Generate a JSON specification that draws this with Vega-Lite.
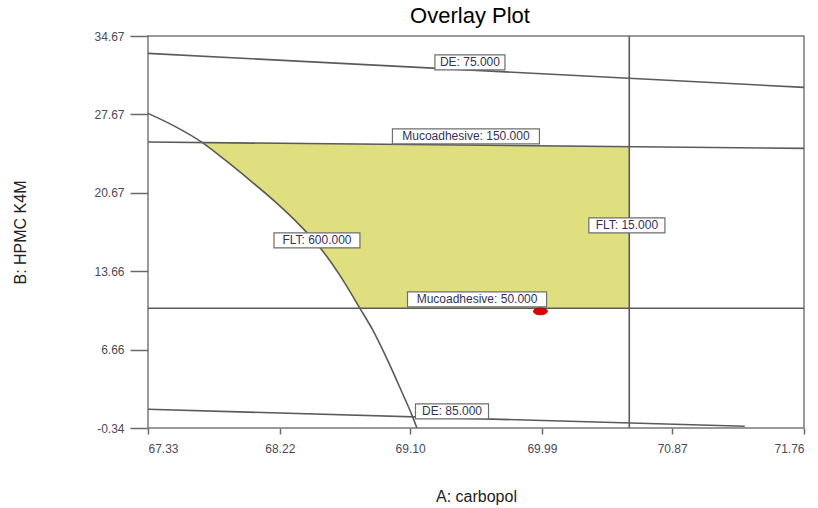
{
  "$schema": "https://vega.github.io/schema/vega-lite/v6.json",
  "width": 656,
  "height": 392,
  "autosize": "none",
  "padding": {"left": 148, "top": 36, "right": 14, "bottom": 80},
  "background": "white",
  "config": {
    "view": {"stroke": "#7a7a7a", "strokeWidth": 1.5},
    "font": "Liberation Sans"
  },
  "title": {
    "text": "Overlay Plot",
    "fontSize": 22,
    "font": "Liberation Sans",
    "fontWeight": "normal",
    "color": "#000000",
    "offset": 2,
    "dx": -6
  },
  "datasets": {
    "fillCurve": [
      {"x": 67.695, "y": 25.17, "y2": 25.17},
      {"x": 67.85, "y": 23.6, "y2": 25.14},
      {"x": 68.019, "y": 21.78, "y2": 25.11},
      {"x": 68.19, "y": 19.85, "y2": 25.09},
      {"x": 68.356, "y": 17.76, "y2": 25.07},
      {"x": 68.491, "y": 15.79, "y2": 25.05},
      {"x": 68.626, "y": 13.29, "y2": 25.03},
      {"x": 68.761, "y": 10.35, "y2": 25.02}
    ],
    "fillRect": [
      {"x": 68.761, "y": 10.35, "y2": 25.02},
      {"x": 70.58, "y": 10.35, "y2": 24.78}
    ],
    "lines": [
      {"series": "DE 75", "i": 0, "x": 67.33, "y": 33.12},
      {"series": "DE 75", "i": 1, "x": 71.76, "y": 30.08},
      {"series": "Muco 150", "i": 0, "x": 67.33, "y": 25.2},
      {"series": "Muco 150", "i": 1, "x": 71.76, "y": 24.63},
      {"series": "Muco 50", "i": 0, "x": 67.33, "y": 10.35},
      {"series": "Muco 50", "i": 1, "x": 71.76, "y": 10.35},
      {"series": "FLT 15", "i": 0, "x": 70.58, "y": 34.67},
      {"series": "FLT 15", "i": 1, "x": 70.58, "y": -0.34},
      {"series": "DE 85", "i": 0, "x": 67.33, "y": 1.33},
      {"series": "DE 85", "i": 1, "x": 71.36, "y": -0.19}
    ],
    "curve": [
      {"x": 67.33, "y": 27.76},
      {"x": 67.512, "y": 26.6},
      {"x": 67.695, "y": 25.17},
      {"x": 67.85, "y": 23.6},
      {"x": 68.019, "y": 21.78},
      {"x": 68.19, "y": 19.85},
      {"x": 68.356, "y": 17.76},
      {"x": 68.491, "y": 15.79},
      {"x": 68.626, "y": 13.29},
      {"x": 68.761, "y": 10.35},
      {"x": 68.849, "y": 8.38},
      {"x": 68.964, "y": 5.26},
      {"x": 69.045, "y": 2.85},
      {"x": 69.113, "y": 0.79},
      {"x": 69.146, "y": -0.34}
    ],
    "point": [
      {"x": 69.98, "y": 10.08}
    ],
    "labels": [
      {"label": "DE: 75.000", "x": 69.504, "y": 32.31},
      {"label": "Mucoadhesive: 150.000", "x": 69.477, "y": 25.71},
      {"label": "FLT: 600.000", "x": 68.471, "y": 16.42},
      {"label": "FLT: 15.000", "x": 70.564, "y": 17.76},
      {"label": "Mucoadhesive: 50.000", "x": 69.552, "y": 11.15},
      {"label": "DE: 85.000", "x": 69.383, "y": 1.15}
    ]
  },
  "encoding": {
    "x": {
      "field": "x",
      "type": "quantitative",
      "scale": {"domain": [67.33, 71.76], "nice": false, "zero": false},
      "axis": {
        "title": "A: carbopol",
        "values": [67.33, 68.22, 69.1, 69.99, 70.87, 71.76],
        "format": ".2f",
        "grid": false,
        "domain": false,
        "tickSize": 6,
        "tickWidth": 1.5,
        "tickColor": "#6a6a6a",
        "labelPadding": 9,
        "labelFontSize": 12,
        "labelColor": "#4a4a5a",
        "labelFont": "Liberation Sans",
        "titleFont": "Liberation Sans",
        "titleFontSize": 16,
        "titleFontWeight": "normal",
        "titleColor": "#222222",
        "titleY": 60
      }
    },
    "y": {
      "field": "y",
      "type": "quantitative",
      "scale": {"domain": [-0.34, 34.67], "nice": false, "zero": false},
      "axis": {
        "title": "B: HPMC K4M",
        "values": [-0.34, 6.66, 13.66, 20.67, 27.67, 34.67],
        "labelExpr": "replace(format(datum.value, '.2f'), '\u2212', '-')",
        "grid": false,
        "domain": false,
        "tickSize": 18,
        "tickWidth": 1.5,
        "tickColor": "#6a6a6a",
        "labelPadding": 6,
        "labelFontSize": 12,
        "labelColor": "#4a4a5a",
        "labelFont": "Liberation Sans",
        "titleFont": "Liberation Sans",
        "titleFontSize": 16,
        "titleFontWeight": "normal",
        "titleColor": "#222222",
        "titleX": -120,
        "titleY": 196
      }
    }
  },
  "layer": [
    {
      "data": {"name": "fillCurve"},
      "mark": {"type": "area", "color": "#dfdf7f", "stroke": "#dfdf7f", "strokeWidth": 1, "opacity": 1, "interpolate": "monotone"},
      "encoding": {
        "y2": {"field": "y2"}
      }
    },
    {
      "data": {"name": "fillRect"},
      "mark": {"type": "area", "color": "#dfdf7f", "stroke": "#dfdf7f", "strokeWidth": 1, "opacity": 1},
      "encoding": {
        "y2": {"field": "y2"}
      }
    },
    {
      "data": {"name": "lines"},
      "mark": {"type": "line", "color": "#5a5a5a", "strokeWidth": 1.6},
      "encoding": {
        "detail": {"field": "series", "type": "nominal"},
        "order": {"field": "i", "type": "quantitative"}
      }
    },
    {
      "data": {"name": "curve"},
      "mark": {"type": "line", "color": "#5a5a5a", "strokeWidth": 1.6, "interpolate": "monotone"},
      "encoding": {}
    },
    {
      "data": {"name": "point"},
      "mark": {
        "type": "point",
        "filled": true,
        "color": "#e00000",
        "stroke": "#a00000",
        "strokeWidth": 0.8,
        "opacity": 1,
        "size": 196,
        "shape": "M-1,0C-1,-0.28,-0.55,-0.5,0,-0.5C0.55,-0.5,1,-0.28,1,0C1,0.28,0.55,0.5,0,0.5C-0.55,0.5,-1,0.28,-1,0Z"
      }
    },
    {
      "data": {"name": "labels"},
      "mark": {
        "type": "point",
        "filled": false,
        "fill": "white",
        "fillOpacity": 1,
        "stroke": "#6e6e6e",
        "strokeWidth": 1.2,
        "opacity": 1,
        "size": 225
      },
      "encoding": {
        "shape": {
          "field": "label",
          "type": "nominal",
          "legend": null,
          "scale": {
            "domain": ["DE: 75.000", "Mucoadhesive: 150.000", "FLT: 600.000", "FLT: 15.000", "Mucoadhesive: 50.000", "DE: 85.000"],
            "range": [
              "M-4.67,-1L4.67,-1L4.67,1L-4.67,1Z",
              "M-9.8,-1L9.8,-1L9.8,1L-9.8,1Z",
              "M-5.73,-1L5.73,-1L5.73,1L-5.73,1Z",
              "M-5.07,-1L5.07,-1L5.07,1L-5.07,1Z",
              "M-9.27,-1L9.27,-1L9.27,1L-9.27,1Z",
              "M-4.87,-1L4.87,-1L4.87,1L-4.87,1Z"
            ]
          }
        }
      }
    },
    {
      "data": {"name": "labels"},
      "mark": {
        "type": "text",
        "font": "Liberation Sans",
        "fontSize": 12,
        "color": "#33335a",
        "align": "center",
        "baseline": "middle"
      },
      "encoding": {
        "text": {"field": "label", "type": "nominal"}
      }
    }
  ]
}
